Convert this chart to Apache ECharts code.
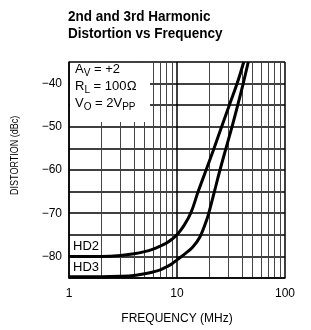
<!DOCTYPE html>
<html>
<head>
<meta charset="utf-8">
<script src="https://cdn.jsdelivr.net/npm/echarts@6/dist/echarts.min.js"></script>
<style>
  html, body { margin: 0; padding: 0; background: #fff; }
  #chart { width: 311px; height: 330px; }
</style>
</head>
<body>
<div id="chart"></div>
<script>
// curve values
var hd2Freq = [1, 2, 3, 4, 5, 6, 7, 8, 9, 10, 11.5, 13.4, 15.7, 18.6, 22, 25.9, 30.5, 36, 41.5];
var hd2Val = [-80, -80, -79.8, -79.4, -78.9, -78.3, -77.6, -76.9, -76.0, -75, -73, -70, -65, -60, -55, -50, -45, -40, -35];
var hd3Freq = [1, 2, 3, 4, 5, 6, 7, 8, 9, 10, 12, 14, 16.3, 18.8, 19.7, 22.2, 25, 28.4, 32.3, 36.5, 41, 45.7];
var hd3Val = [-84.7, -84.7, -84.6, -84.4, -84.0, -83.6, -83.1, -82.4, -81.7, -80.8, -79.3, -77.8, -75.5, -71.6, -70, -65, -60, -55, -50, -45, -40, -35];
var seriesNames = ['HD2', 'HD3'];
var yTicks = [-40, -50, -60, -70, -80];
var xTicks = [1, 10, 100];

var fuente = 'Liberation Sans, Arial, sans-serif';

function pares(xs, ys) {
    var out = [];
    for (var i = 0; i < xs.length; i++) {
        out.push([xs[i], ys[i]]);
    }
    return out;
}

var chart = echarts.init(document.getElementById('chart'));

chart.setOption({
    animation: false,
    textStyle: { fontFamily: fuente },
    grid: {
        left: 69,
        right: 26,
        top: 62,
        bottom: 51
    },
    xAxis: {
        type: 'log',
        logBase: 10,
        min: 1,
        max: 100,
        name: 'FREQUENCY (MHz)',
        nameLocation: 'middle',
        nameGap: 35,
        nameTextStyle: { fontSize: 12, color: '#000', fontFamily: fuente },
        axisLine: { show: true, lineStyle: { color: '#000', width: 1.5 } },
        axisTick: { show: false },
        axisLabel: {
            color: '#000',
            fontSize: 12,
            margin: 10,
            formatter: function(v) {
                return xTicks.indexOf(v) >= 0 ? String(v) : '';
            }
        },
        splitLine: { show: true, lineStyle: { color: '#000', width: 1.5 } },
        minorTick: { show: false, splitNumber: 9 },
        minorSplitLine: { show: true, lineStyle: { color: '#444', width: 1 } }
    },
    yAxis: {
        type: 'value',
        min: -85,
        max: -35,
        interval: 5,
        axisLine: { show: true, lineStyle: { color: '#000', width: 1.5 } },
        axisTick: { show: false },
        axisLabel: {
            color: '#000',
            fontSize: 12,
            margin: 7,
            formatter: function(v) {
                return yTicks.indexOf(v) >= 0 ? '\u2212' + Math.abs(v) : '';
            }
        },
        splitLine: { show: true, lineStyle: { color: '#000', width: 1.5 } }
    },
    graphic: [
        {
            // titulo, un poco angosto como en la hoja de datos
            type: 'text',
            x: 68,
            y: 8,
            scaleX: 0.9,
            style: {
                text: '2nd and 3rd Harmonic\nDistortion vs Frequency',
                fontFamily: fuente,
                fontWeight: 'bold',
                fontSize: 15,
                lineHeight: 17,
                align: 'left',
                verticalAlign: 'top',
                fill: '#000'
            }
        },
        {
            type: 'rect',
            z: 1,
            shape: { x: 70, y: 63, width: 80, height: 59 },
            style: { fill: '#fff' }
        },
        {
            type: 'text',
            z: 2,
            left: 75,
            top: 63,
            style: {
                text: '{m|A}{s|V}{m| = +2}\n{m|R}{s|L}{m| = 100\u2126}\n{m|V}{s|O}{m| = 2V}{s|PP}',
                fill: '#000',
                rich: {
                    m: { fontSize: 13, lineHeight: 17, fontFamily: fuente, fill: '#000' },
                    s: { fontSize: 10, lineHeight: 8, verticalAlign: 'bottom', fontFamily: fuente, fill: '#000' }
                }
            }
        },
        {
            type: 'text',
            z: 3,
            left: 73,
            top: 240,
            style: { text: seriesNames[0], fontSize: 13, fontFamily: fuente, fill: '#000' }
        },
        {
            type: 'text',
            z: 3,
            left: 73,
            top: 261,
            style: { text: seriesNames[1], fontSize: 13, fontFamily: fuente, fill: '#000' }
        },
        {
            type: 'text',
            x: 15,
            y: 195,
            rotation: Math.PI / 2,
            scaleX: 0.82,
            style: {
                text: 'DISTORTION (dBc)',
                fontSize: 11,
                fontFamily: fuente,
                align: 'left',
                verticalAlign: 'middle',
                fill: '#000'
            }
        }
    ],
    series: [
        {
            name: seriesNames[0],
            type: 'line',
            smooth: 0.4,
            symbol: 'none',
            z: 5,
            lineStyle: { color: '#000', width: 3 },
            data: pares(hd2Freq, hd2Val)
        },
        {
            name: seriesNames[1],
            type: 'line',
            smooth: 0.4,
            symbol: 'none',
            z: 5,
            lineStyle: { color: '#000', width: 3 },
            data: pares(hd3Freq, hd3Val)
        }
    ]
});
</script>
</body>
</html>
